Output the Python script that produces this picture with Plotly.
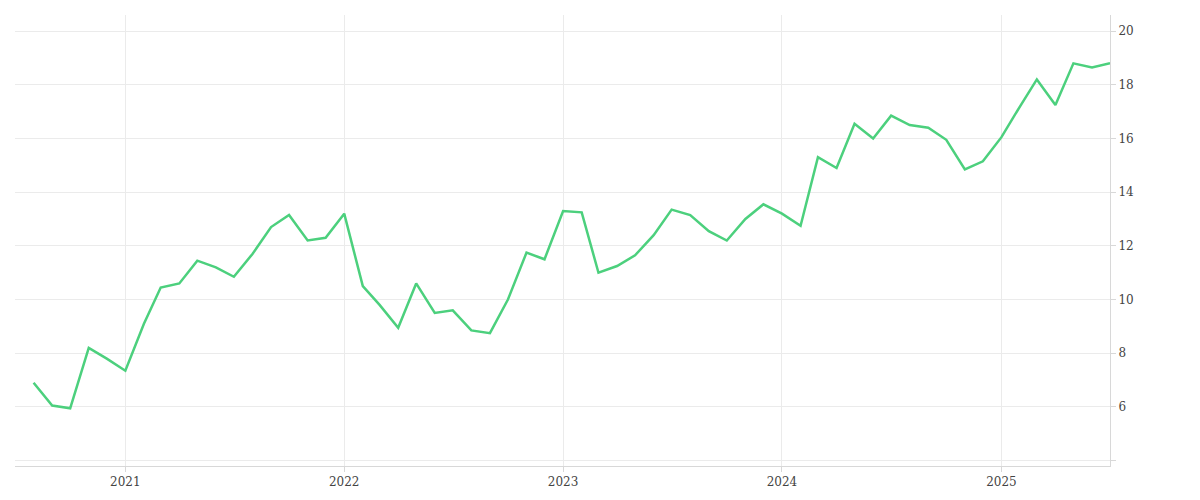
import plotly.graph_objects as go
import pandas as pd

dates = pd.date_range("2020-08-01", periods=60, freq="MS")
values = [6.9, 6.05, 5.95, 8.2, 7.8, 7.35, 9.1, 10.45, 10.6, 11.45, 11.2, 10.85,
          11.7, 12.7, 13.15, 12.2, 12.3, 13.2, 10.5, 9.8, 8.95, 10.6, 9.5, 9.6,
          8.85, 8.75, 10.0, 11.75, 11.5, 13.3, 13.25, 11.0, 11.25, 11.65, 12.4, 13.35,
          13.15, 12.55, 12.2, 13.0, 13.55, 13.2, 12.75, 15.3, 14.9, 16.55, 16.0, 16.85,
          16.5, 16.4, 15.95, 14.85, 15.15, 16.05, 17.2, 18.2, 17.25, 18.8, 18.65, 18.8]
ytick_vals = [4, 6, 8, 10, 12, 14, 16, 18, 20]
ytick_text = ["", "6", "8", "10", "12", "14", "16", "18", "20"]

fig = go.Figure(go.Scatter(x=dates, y=values, mode="lines",
                           line=dict(color="#4cd07d", width=2.5), hoverinfo="skip"))
fig.update_layout(
    width=1200, height=500, margin=dict(l=7, r=98, t=7, b=42, autoexpand=False),
    paper_bgcolor="white", plot_bgcolor="white", showlegend=False,
    font=dict(family="DejaVu Serif", size=12, color="#444"),
)
fig.update_xaxes(range=["2020-07-01", "2025-07-01"], showgrid=True, gridcolor="#ebebeb",
                 dtick="M12", tick0="2021-01-01", tickformat="%Y", showline=True,
                 linecolor="#d8d8d8", ticks="outside", ticklen=5, tickcolor="#d8d8d8",
                 zeroline=False)
fig.update_yaxes(side="right", range=[3.8, 20.6], tickvals=ytick_vals, ticktext=ytick_text,
                 showgrid=True, gridcolor="#ebebeb", showline=True, linecolor="#d8d8d8",
                 ticks="outside", ticklen=5, tickcolor="#d8d8d8", zeroline=False)
fig.write_html("out.html")
